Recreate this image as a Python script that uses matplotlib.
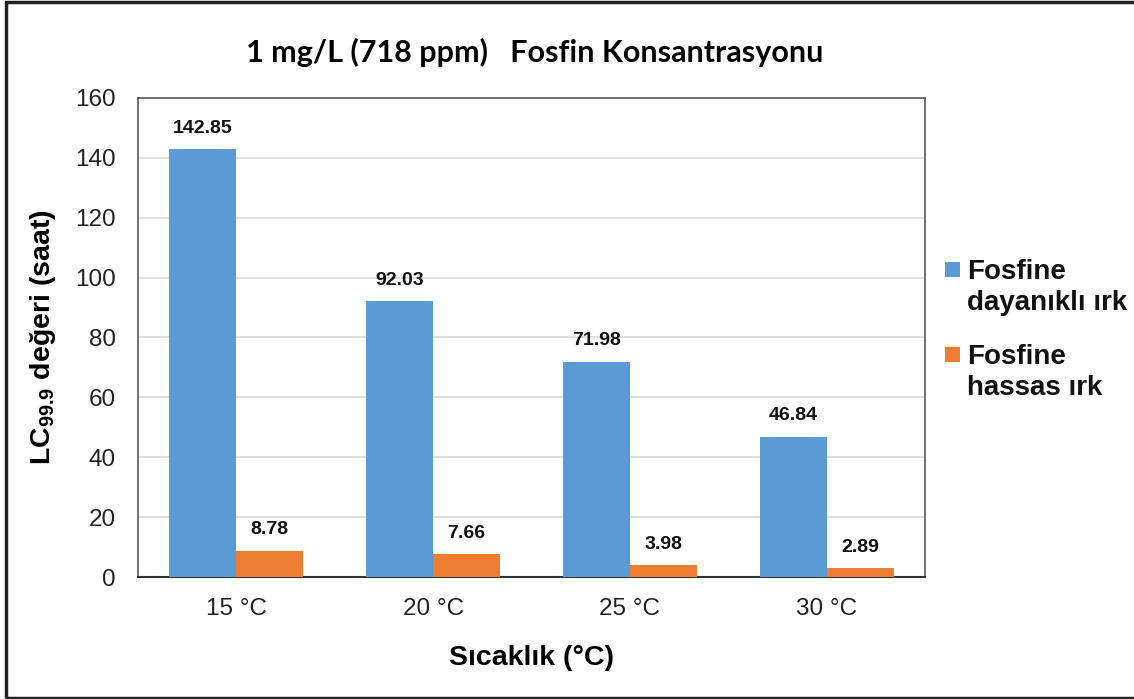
import matplotlib
matplotlib.use("Agg")
import matplotlib.pyplot as plt
import numpy as np
from matplotlib.patches import Rectangle

categories = ["15 °C", "20 °C", "25 °C", "30 °C"]
resistant = [142.85, 92.03, 71.98, 46.84]
sensitive = [8.78, 7.66, 3.98, 2.89]
series_names = ["Fosfine\ndayanıklı ırk", "Fosfine\nhassas ırk"]
yticks = [0, 20, 40, 60, 80, 100, 120, 140, 160]

plt.rcParams['font.family'] = ['Liberation Sans', 'DejaVu Sans']
plt.rcParams['mathtext.fontset'] = 'custom'
plt.rcParams['mathtext.rm'] = 'Liberation Sans'
plt.rcParams['mathtext.bf'] = 'Liberation Sans:bold'

fig = plt.figure(figsize=(11.34, 6.99), dpi=100)
W, H = 1134, 699
ax = fig.add_axes([138 / W, 1 - 577 / H, (925 - 138) / W, (577 - 98) / H])

x = np.arange(len(categories))
bw = 0.34
blue = "#5B9BD5"
orange = "#ED7D31"
b1 = ax.bar(x - bw / 2, resistant, bw, color=blue, label=series_names[0], zorder=3)
b2 = ax.bar(x + bw / 2, sensitive, bw, color=orange, label=series_names[1], zorder=3)
for bars in (b1, b2):
    ax.bar_label(bars, labels=[f"{v:.2f}" for v in bars.datavalues], padding=9,
                 fontsize=14, fontweight='bold', color='#111111')

ax.set_xlim(-0.5, len(categories) - 0.5)
ax.set_ylim(0, 160)
ax.set_yticks(yticks)
ax.set_xticks(x)
ax.set_xticklabels(categories)
ax.tick_params(axis='both', length=0, labelsize=17.5, colors='#222222')
ax.tick_params(axis='y', pad=16)
ax.tick_params(axis='x', pad=15)
ax.grid(axis='y', color='#D9D9D9', linewidth=1.2, zorder=0)
ax.set_axisbelow(True)
for s in ['top', 'right', 'left']:
    ax.spines[s].set_color('#595959')
    ax.spines[s].set_linewidth(1.2)
ax.spines['bottom'].set_color('#333333')
ax.spines['bottom'].set_linewidth(1.5)

ax.set_xlabel("Sıcaklık (°C)", fontsize=20.5, fontweight='bold', labelpad=18)
ax.set_ylabel(r"$\mathbf{LC_{99.9}}$ değeri (saat)", fontsize=20.5, fontweight='bold', labelpad=12)

fig.text(535 / W, 1 - 52 / H, "1 mg/L (718 ppm)   Fosfin Konsantrasyonu",
         ha='center', va='center', fontsize=22, fontweight='bold', family=['Lato', 'DejaVu Sans'])

# Legend: square aligned with first line of a two-line label
legend_tops = [259, 344]
for bars, name, ytop in zip((b1, b2), series_names, legend_tops):
    fig.patches.append(Rectangle((945 / W, 1 - (ytop + 18) / H), 15 / W, 15 / H,
                                 transform=fig.transFigure,
                                 facecolor=bars.patches[0].get_facecolor(), edgecolor='none'))
    fig.text(967 / W, 1 - ytop / H, name, ha='left', va='top', fontsize=20,
             fontweight='bold', color='#111111', linespacing=1.27)

fig.patches.append(Rectangle((6 / W, 1 / H), 1.2, 1 - 3 / H, transform=fig.transFigure,
                             fill=False, edgecolor='#222222', linewidth=2.5))

fig.savefig("out.png", dpi=100)
